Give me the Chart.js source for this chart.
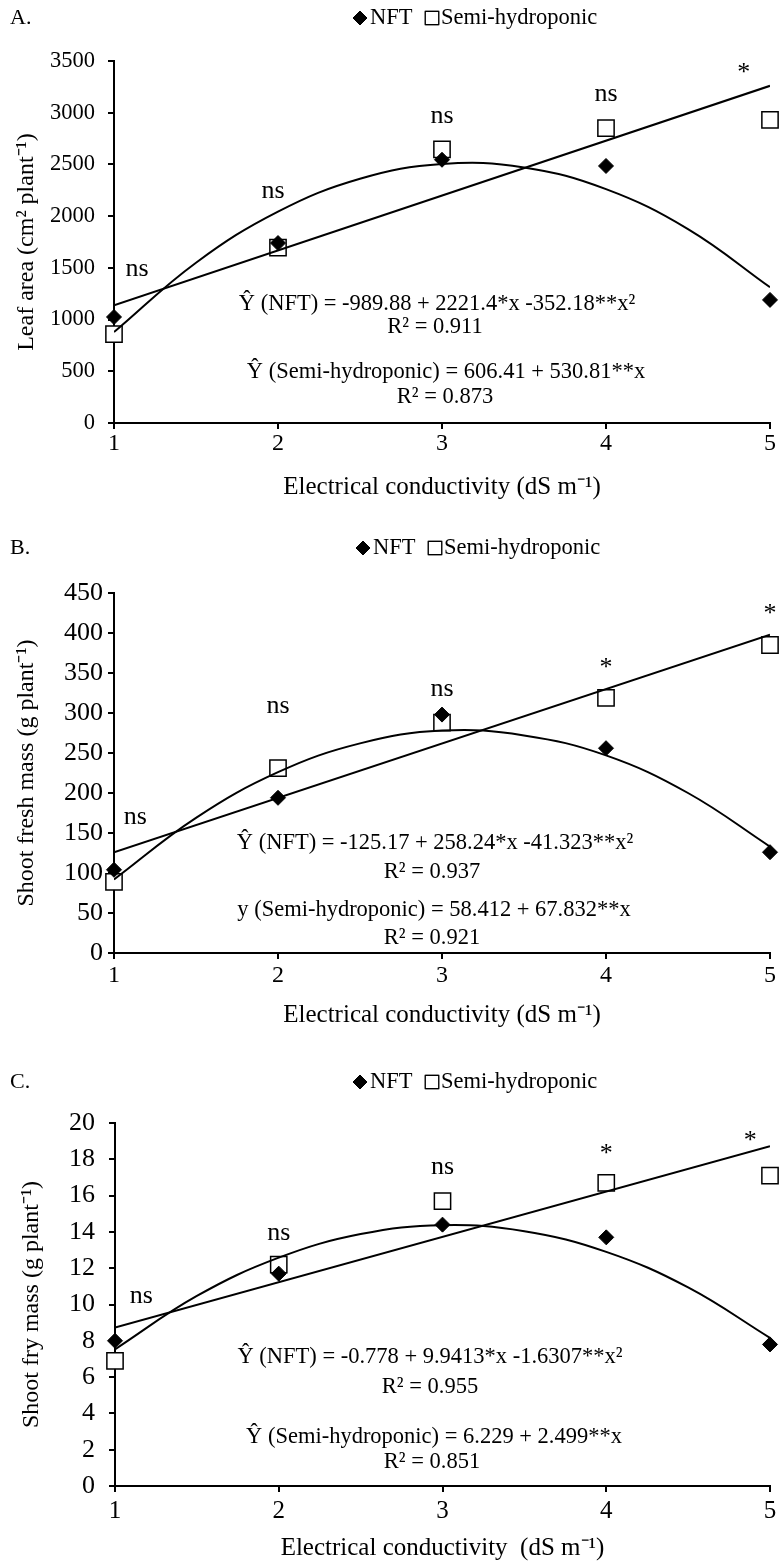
<!DOCTYPE html>
<html>
<head>
<meta charset="utf-8">
<title>EC response curves</title>
<script src="https://cdn.jsdelivr.net/npm/chart.js@4.4.1/dist/chart.umd.min.js"></script>
<style>
  html, body { margin: 0; padding: 0; background: #fff; }
  #page { position: relative; width: 783px; height: 1562px; overflow: hidden; }
  .panel { position: absolute; left: 0; width: 783px; }
  .panel canvas { display: block; }
</style>
</head>
<body>
<div id="page">
  <div class="panel" style="top:0"><canvas id="chartA" width="783" height="532"></canvas></div>
  <div class="panel" style="top:532px"><canvas id="chartB" width="783" height="530"></canvas></div>
  <div class="panel" style="top:1062px"><canvas id="chartC" width="783" height="500"></canvas></div>
</div>
<script>
// ---- Data ----
const ecLevels = [1, 2, 3, 4, 5];
const curveSteps = [1, 1.5, 2, 2.5, 3, 3.5, 4, 4.5, 5];
const lineEnds = [1, 5];

// A. Leaf area (cm2 plant-1)
const leafAreaNFT = [1025, 1740, 2545, 2485, 1190];
const leafAreaSemi = [860, 1695, 2645, 2852, 2930];
const leafAreaNFTCurve = [879, 1550, 2044, 2362, 2505, 2471, 2261, 1875, 1313];
const leafAreaSemiLine = [1137, 3260];
const leafAreaSig = ['ns', 'ns', 'ns', 'ns', '*'];
const leafAreaSigX = [1.14, 1.97, 3.0, 4.0, 4.84];
const leafAreaSigY = [1480, 2233, 2960, 3171, 3452];
const leafAreaEq = ['Ŷ (NFT) = -989.88 + 2221.4*x -352.18**x²', 'R² = 0.911',
                    'Ŷ (Semi-hydroponic) = 606.41 + 530.81**x', 'R² = 0.873'];

// B. Shoot fresh mass (g plant-1)
const freshMassNFT = [104, 194, 298, 256, 126];
const freshMassSemi = [89, 231, 288, 319, 385];
const freshMassNFTCurve = [92, 169, 226, 262, 278, 272, 247, 200, 133];
const freshMassSemiLine = [126, 398];
const freshMassSig = ['ns', 'ns', 'ns', '*', '*'];
const freshMassSigX = [1.13, 2.0, 3.0, 4.0, 5.0];
const freshMassSigY = [169, 308, 329, 366, 433];
const freshMassEq = ['Ŷ (NFT) = -125.17 + 258.24*x -41.323**x²', 'R² = 0.937',
                     'y (Semi-hydroponic) = 58.412 + 67.832**x', 'R² = 0.921'];

// C. Shoot dry mass (g plant-1)
const dryMassNFT = [8.0, 11.7, 14.4, 13.7, 7.8];
const dryMassSemi = [6.9, 12.2, 15.7, 16.7, 17.1];
const dryMassNFTCurve = [7.53, 10.47, 12.58, 13.88, 14.37, 14.04, 12.9, 10.94, 8.16];
const dryMassSemiLine = [8.73, 18.72];
const dryMassSig = ['ns', 'ns', 'ns', '*', '*'];
const dryMassSigX = [1.16, 2.0, 3.0, 4.0, 4.88];
const dryMassSigY = [10.4, 13.9, 17.5, 18.7, 19.4];
const dryMassEq = ['Ŷ (NFT) = -0.778 + 9.9413*x -1.6307**x²', 'R² = 0.955',
                   'Ŷ (Semi-hydroponic) = 6.229 + 2.499**x', 'R² = 0.851'];

const seriesNames = ['NFT', 'Semi-hydroponic'];

// ---- Helpers ----
const SERIF = "'Liberation Serif', 'Times New Roman', serif";
const toPoints = (xs, ys) => xs.map((x, i) => ({ x: x, y: ys[i] }));

const marker = (ctx, style, x, y, r, fill, lw) => {
    Chart.helpers.drawPoint(ctx, { pointStyle: style, radius: r, rotation: 0, borderWidth: lw }, x, y);
    ctx.fillStyle = fill;
    ctx.fill();
    ctx.lineWidth = lw;
    ctx.strokeStyle = '#000';
    ctx.stroke();
};

// Panel letter, legend, significance marks and regression equations
const panelText = {
    id: 'panelText',
    afterDraw(chart, args, opts) {
        const ctx = chart.ctx;
        const xs = chart.scales.x;
        const ys = chart.scales.y;
        ctx.save();
        ctx.fillStyle = '#000';

        // panel letter
        ctx.font = `22px ${SERIF}`;
        ctx.textAlign = 'left';
        ctx.textBaseline = 'middle';
        ctx.fillText(opts.letter, 10, opts.legendY);

        // legend
        const lx = opts.legendX;
        const ly = opts.legendY;
        marker(ctx, 'rectRot', lx, ly, 7, '#000', 1);
        ctx.fillStyle = '#000';
        ctx.font = `22.5px ${SERIF}`;
        ctx.fillText(seriesNames[0], lx + 10, ly);
        marker(ctx, 'rect', lx + 72, ly, 9.5, '#fff', 1.2);
        ctx.fillStyle = '#000';
        ctx.fillText(seriesNames[1], lx + 81, ly);

        // significance labels
        ctx.font = `26px ${SERIF}`;
        ctx.textAlign = 'center';
        ctx.textBaseline = 'alphabetic';
        opts.sig.forEach((s, i) => {
            const px = xs.getPixelForValue(opts.sigX[i]);
            const py = ys.getPixelForValue(opts.sigY[i]);
            ctx.fillText(s, px, py + (s === '*' ? 0.55 : 0.23) * 26);
        });

        // regression equations
        ctx.font = `22.5px ${SERIF}`;
        ctx.textBaseline = 'middle';
        opts.eq.forEach((t, i) => {
            ctx.fillText(t, opts.eqPos[i][0], opts.eqPos[i][1]);
        });
        ctx.restore();
    }
};

const makePanel = (id, p) => {
    const H = document.getElementById(id).height;
    const datasets = [
        {
            label: seriesNames[0],
            data: toPoints(ecLevels, p.nft),
            pointStyle: 'rectRot',
            pointRadius: 7.5,
            backgroundColor: '#000',
            borderColor: '#000',
            borderWidth: 1,
            order: 1,
            clip: false
        },
        {
            label: seriesNames[1],
            data: toPoints(ecLevels, p.semi),
            pointStyle: 'rect',
            pointRadius: 11.5,
            backgroundColor: '#fff',
            borderColor: '#000',
            borderWidth: 1.5,
            order: 2,
            clip: false
        },
        {
            label: 'NFT trend',
            data: toPoints(curveSteps, p.nftCurve),
            showLine: true,
            pointRadius: 0,
            borderColor: '#000',
            borderWidth: 2,
            tension: 0.4,
            order: 0
        },
        {
            label: 'Semi-hydroponic trend',
            data: toPoints(lineEnds, p.semiLine),
            showLine: true,
            pointRadius: 0,
            borderColor: '#000',
            borderWidth: 2,
            order: 0
        }
    ];

    return new Chart(document.getElementById(id), {
        type: 'scatter',
        data: { datasets: datasets },
        options: {
            responsive: false,
            animation: false,
            events: [],
            devicePixelRatio: 1,
            layout: { padding: { top: p.plotTop, right: 9, bottom: 0, left: 0 } },
            plugins: {
                legend: { display: false },
                tooltip: { enabled: false },
                panelText: {
                    letter: p.letter,
                    legendX: p.legendX,
                    legendY: p.legendY,
                    sig: p.sig,
                    sigX: p.sigX,
                    sigY: p.sigY,
                    eq: p.eq,
                    eqPos: p.eqPos
                }
            },
            scales: {
                x: {
                    type: 'linear',
                    min: 1,
                    max: 5,
                    ticks: {
                        stepSize: 1,
                        color: '#000',
                        padding: p.xTickPad,
                        font: { family: SERIF, size: p.xTickFont }
                    },
                    grid: { drawOnChartArea: false, drawTicks: true, tickLength: 6, color: '#000', lineWidth: 2 },
                    border: { display: true, color: '#000', width: 2 },
                    title: {
                        display: true,
                        text: p.xTitle,
                        color: '#000',
                        font: { family: SERIF, size: 25 },
                        padding: { top: 0, bottom: H - p.xTitleY - 15 }
                    },
                    afterFit: (s) => { s.height = H - p.plotBottom; }
                },
                y: {
                    type: 'linear',
                    min: 0,
                    max: p.yMax,
                    ticks: {
                        stepSize: p.yStep,
                        color: '#000',
                        padding: p.yTickPad,
                        font: { family: SERIF, size: p.yTickFont },
                        callback: (v) => String(v)
                    },
                    grid: { drawOnChartArea: false, drawTicks: true, tickLength: 6, color: '#000', lineWidth: 2 },
                    border: { display: true, color: '#000', width: 2 },
                    title: {
                        display: true,
                        text: p.yTitle,
                        color: '#000',
                        font: { family: SERIF, size: 24 },
                        padding: { top: p.yTitleX - 14.4, bottom: 0 }
                    },
                    afterFit: (s) => { s.width = p.plotLeft; }
                }
            }
        },
        plugins: [panelText]
    });
};

document.addEventListener('DOMContentLoaded', () => {
    makePanel('chartA', {
        letter: 'A.', legendX: 360, legendY: 18,
        nft: leafAreaNFT, semi: leafAreaSemi, nftCurve: leafAreaNFTCurve, semiLine: leafAreaSemiLine,
        sig: leafAreaSig, sigX: leafAreaSigX, sigY: leafAreaSigY,
        eq: leafAreaEq, eqPos: [[437, 304], [435, 327], [446, 372], [445, 397]],
        yMax: 3500, yStep: 500, yTitle: 'Leaf area (cm² plant⁻¹)',
        xTitle: 'Electrical conductivity (dS m⁻¹)',
        plotTop: 61, plotBottom: 423, plotLeft: 114,
        yTitleX: 27, xTitleY: 487,
        yTickFont: 22.5, yTickPad: 13, xTickFont: 24, xTickPad: 0
    });
    makePanel('chartB', {
        letter: 'B.', legendX: 363, legendY: 16,
        nft: freshMassNFT, semi: freshMassSemi, nftCurve: freshMassNFTCurve, semiLine: freshMassSemiLine,
        sig: freshMassSig, sigX: freshMassSigX, sigY: freshMassSigY,
        eq: freshMassEq, eqPos: [[435, 311], [432, 340], [434, 378], [432, 406]],
        yMax: 450, yStep: 50, yTitle: 'Shoot fresh mass (g plant⁻¹)',
        xTitle: 'Electrical conductivity (dS m⁻¹)',
        plotTop: 61, plotBottom: 421, plotLeft: 114,
        yTitleX: 27, xTitleY: 483,
        yTickFont: 26, yTickPad: 5, xTickFont: 24, xTickPad: 2
    });
    makePanel('chartC', {
        letter: 'C.', legendX: 360, legendY: 20,
        nft: dryMassNFT, semi: dryMassSemi, nftCurve: dryMassNFTCurve, semiLine: dryMassSemiLine,
        sig: dryMassSig, sigX: dryMassSigX, sigY: dryMassSigY,
        eq: dryMassEq, eqPos: [[430, 295], [430, 325], [434, 375], [432, 400]],
        yMax: 20, yStep: 2, yTitle: 'Shoot fry mass (g plant⁻¹)',
        xTitle: 'Electrical conductivity  (dS m⁻¹)',
        plotTop: 61, plotBottom: 424, plotLeft: 115,
        yTitleX: 32, xTitleY: 486,
        yTickFont: 26, yTickPad: 14, xTickFont: 25, xTickPad: 4
    });
});
</script>
</body>
</html>
